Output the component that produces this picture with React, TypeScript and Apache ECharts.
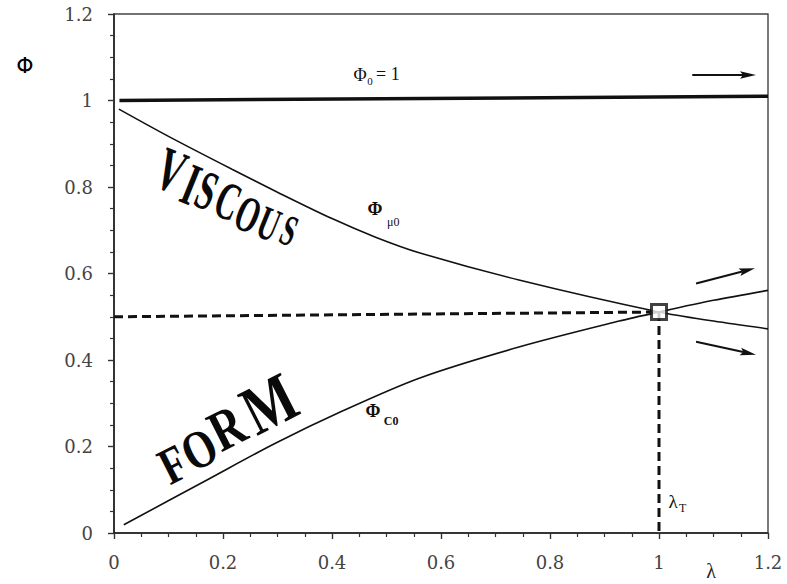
import React, { useEffect, useRef } from "react";
import * as echarts from "echarts";

// ---------- data ----------
const xTickLabels = ["0", "0.2", "0.4", "0.6", "0.8", "1", "1.2"];
const yTickLabels = ["0", "0.2", "0.4", "0.6", "0.8", "1", "1.2"];

const lambdaPhi0 = [0.01, 1.2];
const phi0Values = [1.0, 1.01];

const lambdaViscous = [0.009, 0.1, 0.2165, 0.3, 0.4, 0.48, 0.56, 0.743, 1.0, 1.1, 1.2];
const phiViscous = [0.98, 0.917, 0.841, 0.788, 0.727, 0.684, 0.648, 0.585, 0.511, 0.49, 0.472];

const lambdaForm = [0.018, 0.174, 0.297, 0.419, 0.56, 0.743, 0.927, 1.0, 1.1, 1.2];
const phiForm = [0.019, 0.125, 0.208, 0.282, 0.358, 0.43, 0.49, 0.511, 0.538, 0.561];

const lambdaT = 1.0;
const phiT = 0.511;
const phiDashStart = 0.5;

// arrows (data coordinates)
const arrowFromLambda = [1.061, 1.068, 1.068];
const arrowFromPhi = [1.059, 0.577, 0.442];
const arrowToLambda = [1.178, 1.176, 1.178];
const arrowToPhi = [1.059, 0.612, 0.412];

// ---------- annotation layout (data-space anchors) ----------
const viscousLetters = ["V", "I", "S", "C", "O", "U", "S"];
const viscousAnchorX = [0.1046, 0.1413, 0.1706, 0.2092, 0.2459, 0.2844, 0.3211];
const viscousAnchorY = [0.8387, 0.8062, 0.7923, 0.7668, 0.7367, 0.7158, 0.6996];
const viscousSizes = [62, 60, 56, 54, 51, 48, 44];

const formLetters = ["F", "O", "R", "M"];
const formAnchorX = [0.1083, 0.156, 0.2074, 0.2844];
const formAnchorY = [0.1598, 0.1946, 0.2432, 0.2988];
const formSizes = [52, 54, 58, 70];

const serif = "Liberation Serif, serif";
const labelSerif = "DejaVu Serif, serif";

export default function App() {
  const ref = useRef<HTMLDivElement>(null);

  useEffect(() => {
    const el = ref.current!;
    const chart = echarts.init(el, null, { renderer: "svg" });

    const pairs = (xs: number[], ys: number[]) => xs.map((x, i) => [x, ys[i]]);
    const fmt = (labels: string[]) => (v: number) => labels[Math.round(v / 0.2)] ?? "";

    const axisCommon = {
      type: "value" as const,
      min: 0,
      max: 1.2,
      interval: 0.2,
      splitLine: { show: false },
      axisLine: { show: true, onZero: false, lineStyle: { color: "#222", width: 1.6 } },
      axisTick: { show: true, inside: false, length: 6, lineStyle: { color: "#333", width: 1.4 } },
      minorTick: { show: true, splitNumber: 4, length: 4, lineStyle: { color: "#333", width: 1.2 } },
    };

    chart.setOption({
      animation: false,
      backgroundColor: "#fff",
      grid: {
        left: 114,
        right: 19,
        top: 14,
        bottom: 51,
        show: true,
        borderColor: "#444",
        borderWidth: 1.4,
      },
      xAxis: {
        ...axisCommon,
        axisLabel: { fontFamily: labelSerif, fontSize: 18, color: "#444", margin: 20, formatter: fmt(xTickLabels) },
      },
      yAxis: {
        ...axisCommon,
        axisLabel: { fontFamily: labelSerif, fontSize: 18, color: "#444", margin: 21, formatter: fmt(yTickLabels) },
      },
      series: [
        {
          type: "line",
          data: pairs(lambdaPhi0, phi0Values),
          showSymbol: false,
          lineStyle: { color: "#111", width: 3.5 },
          silent: true,
        },
        {
          type: "line",
          data: pairs(lambdaViscous, phiViscous),
          smooth: 0.3,
          showSymbol: false,
          lineStyle: { color: "#111", width: 1.6 },
          silent: true,
        },
        {
          type: "line",
          data: pairs(lambdaForm, phiForm),
          smooth: 0.3,
          showSymbol: false,
          lineStyle: { color: "#111", width: 1.6 },
          silent: true,
        },
        {
          type: "line",
          data: [[0, phiDashStart], [lambdaT, phiT]],
          showSymbol: false,
          lineStyle: { color: "#111", width: 3, type: [9, 5] },
          silent: true,
        },
        {
          type: "line",
          data: [[lambdaT, phiT], [lambdaT, 0]],
          showSymbol: false,
          lineStyle: { color: "#111", width: 3, type: [9, 5] },
          silent: true,
        },
        {
          type: "scatter",
          data: [[lambdaT, phiT]],
          symbol: "rect",
          symbolSize: 15,
          itemStyle: { color: "#fff", borderColor: "#111", borderWidth: 3 },
          z: 5,
          silent: true,
        },
      ],
    });

    const toPx = (x: number, y: number) =>
      chart.convertToPixel({ gridIndex: 0 }, [x, y]) as unknown as number[];

    const graphics: any[] = [];

    // arrows
    for (let i = 0; i < arrowFromLambda.length; i++) {
      const [x1, y1] = toPx(arrowFromLambda[i], arrowFromPhi[i]);
      const [x2, y2] = toPx(arrowToLambda[i], arrowToPhi[i]);
      const dx = x2 - x1;
      const dy = y2 - y1;
      const len = Math.hypot(dx, dy);
      const ux = dx / len;
      const uy = dy / len;
      const nx = -uy;
      const ny = ux;
      const headL = 16;
      const headW = 3.8;
      const bx = x2 - ux * headL;
      const by = y2 - uy * headL;
      graphics.push({
        type: "line",
        shape: { x1, y1, x2: bx + ux * 3, y2: by + uy * 3 },
        style: { stroke: "#111", lineWidth: 2 },
        silent: true,
      });
      graphics.push({
        type: "polygon",
        shape: {
          points: [
            [x2, y2],
            [bx + nx * headW, by + ny * headW],
            [bx + ux * 3, by + uy * 3],
            [bx - nx * headW, by - ny * headW],
          ],
        },
        style: { fill: "#111" },
        silent: true,
      });
    }

    const addText = (
      text: string,
      dx: number,
      dy: number,
      size: number,
      opts: any = {}
    ) => {
      const [x, y] = toPx(dx, dy);
      graphics.push({
        type: "text",
        x,
        y,
        rotation: opts.rotation ?? 0,
        scaleX: opts.scaleX ?? 1,
        scaleY: opts.scaleY ?? 1,
        silent: true,
        z: 10,
        style: {
          text,
          fontSize: size,
          fontFamily: opts.family ?? serif,
          fontWeight: opts.weight ?? "normal",
          fill: opts.fill ?? "#111",
          align: opts.align ?? "center",
          verticalAlign: "middle",
        },
      });
    };

    // Φ0 = 1
    addText("Φ", 0.4514, 1.0586, 18);
    addText("0", 0.4697, 1.046, 11);
    addText("= 1", 0.4807, 1.061, 18, { align: "left" });

    // Φμ0
    addText("Φ", 0.479, 0.748, 18, { weight: "bold" });
    addText("μ0", 0.501, 0.72, 12, { align: "left" });

    // ΦC0
    addText("Φ", 0.475, 0.2826, 18, { weight: "bold" });
    addText("C0", 0.495, 0.2594, 12, { align: "left", weight: "bold" });

    // λT
    addText("λ", 1.0257, 0.0718, 19);
    addText("T", 1.0367, 0.0579, 12, { align: "left" });

    // axis names
    addText("Φ", -0.1633, 1.0818, 22, { family: "DejaVu Sans, sans-serif", fill: "#000" });
    addText("λ", 1.0954, -0.088, 20, { fill: "#222" });

    // VISCOUS
    viscousLetters.forEach((ch, i) => {
      addText(ch, viscousAnchorX[i], viscousAnchorY[i], viscousSizes[i], {
        weight: "bold",
        rotation: (-22 * Math.PI) / 180,
        scaleX: 0.58,
        fill: "#0a0a0a",
      });
    });

    // FORM
    formLetters.forEach((ch, i) => {
      addText(ch, formAnchorX[i], formAnchorY[i], formSizes[i], {
        weight: "bold",
        rotation: (27 * Math.PI) / 180,
        scaleX: 0.78,
        fill: "#0a0a0a",
      });
    });

    chart.setOption({ graphic: graphics });

    return () => chart.dispose();
  }, []);

  return (
    <div
      ref={ref}
      style={{ position: "absolute", left: 0, top: 0, width: 787, height: 584, background: "#fff" }}
    />
  );
}
